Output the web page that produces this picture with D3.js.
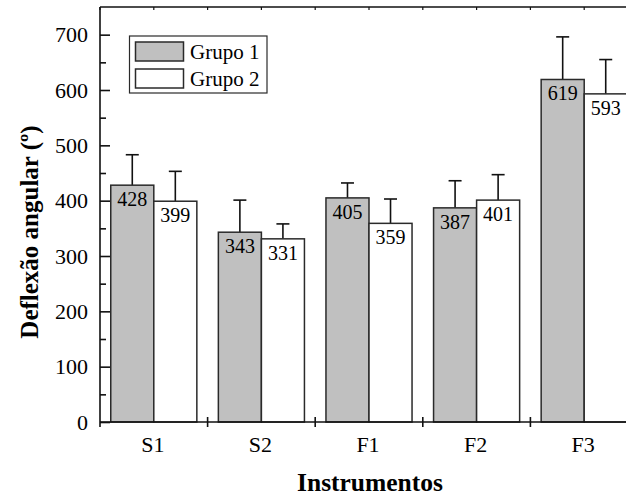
<!DOCTYPE html>
<html>
<head>
<meta charset="utf-8">
<script src="https://cdn.jsdelivr.net/npm/d3@7"></script>
<style>
  html, body { margin: 0; padding: 0; background: #fff; overflow: hidden; }
  svg text { font-family: "Liberation Serif", "DejaVu Serif", serif; fill: #000; }
</style>
</head>
<body>
<svg id="chart" width="626" height="498" font-family="Liberation Serif, serif"></svg>
<script>
// Instruments and angular deflection per group
const categories = ["S1", "S2", "F1", "F2", "F3"];
const groups = ["Grupo 1", "Grupo 2"];
const grupo1 = [428, 343, 405, 387, 619];
const grupo2 = [399, 331, 359, 401, 593];
const erro1 = [55, 58, 27, 49, 77];
const erro2 = [54, 27, 44, 46, 62];
const yTicks = [0, 100, 200, 300, 400, 500, 600, 700];
const groupColors = ["#c0c0c0", "#ffffff"];

const FONT = "'Liberation Serif', 'Times New Roman', serif";
const svg = d3.select("#chart");
const plotLeft = 100, plotRight = 638, plotTop = 7, plotBottom = 422;

const x = d3.scaleBand().domain(categories).range([plotLeft, plotRight]).paddingInner(0).paddingOuter(0);
const xSub = d3.scaleBand().domain(groups).range([0, x.bandwidth()]).paddingInner(0).paddingOuter(0.25);
const y = d3.scaleLinear().domain([0, 750]).range([plotBottom, plotTop]);

const series = [grupo1, grupo2];
const errors = [erro1, erro2];

// Error bars (upper half only), drawn under the bars
const g = svg.append("g");
groups.forEach((grp, gi) => {
  categories.forEach((c, ci) => {
    const v = series[gi][ci];
    const bx = x(c) + xSub(grp);
    const bw = xSub.bandwidth();
    const cx = bx + bw / 2;
    const yt = y(v + errors[gi][ci]);
    g.append("line")
      .attr("x1", cx).attr("x2", cx)
      .attr("y1", y(v)).attr("y2", yt)
      .attr("stroke", "#111").attr("stroke-width", 1.6);
    g.append("line")
      .attr("x1", cx - 6.5).attr("x2", cx + 6.5)
      .attr("y1", yt).attr("y2", yt)
      .attr("stroke", "#111").attr("stroke-width", 1.6);
  });
});

// Bars with their value labels
groups.forEach((grp, gi) => {
  categories.forEach((c, ci) => {
    const v = series[gi][ci];
    const bx = x(c) + xSub(grp);
    const bw = xSub.bandwidth();
    g.append("rect")
      .attr("x", bx).attr("y", y(v))
      .attr("width", bw).attr("height", y(0) - y(v))
      .attr("fill", groupColors[gi])
      .attr("stroke", "#2a2a2a").attr("stroke-width", 1.5);
    g.append("text")
      .attr("x", bx + bw / 2).attr("y", y(v) + 21)
      .attr("text-anchor", "middle")
      .attr("font-family", FONT)
      .attr("font-size", 20)
      .text(v);
  });
});

// Frame
const frame = svg.append("g").attr("stroke", "#111").attr("stroke-width", 1.6).attr("fill", "none");
frame.append("line").attr("x1", plotLeft).attr("x2", plotRight).attr("y1", plotTop).attr("y2", plotTop);
frame.append("line").attr("x1", plotLeft).attr("x2", plotRight).attr("y1", plotBottom).attr("y2", plotBottom);
frame.append("line").attr("x1", plotLeft).attr("x2", plotLeft).attr("y1", plotTop).attr("y2", plotBottom + 5);

// Y ticks: major inward, minor at half steps
const yA = svg.append("g").attr("transform", `translate(${plotLeft},0)`)
  .call(d3.axisRight(y).tickValues(yTicks).tickSize(10).tickFormat(""));
yA.select(".domain").remove();
yA.selectAll("line").attr("stroke", "#111").attr("stroke-width", 1.6);
const minor = d3.range(50, 750, 100);
const yMinor = svg.append("g").attr("transform", `translate(${plotLeft},0)`)
  .call(d3.axisRight(y).tickValues(minor).tickSize(6).tickFormat(""));
yMinor.select(".domain").remove();
yMinor.selectAll("line").attr("stroke", "#111").attr("stroke-width", 1.6);

// Y tick labels
svg.append("g").selectAll("text").data(yTicks).join("text")
  .attr("x", plotLeft - 12).attr("y", d => y(d))
  .attr("dy", "0.35em")
  .attr("text-anchor", "end")
  .attr("font-family", FONT)
  .attr("font-size", 22)
  .text(d => d);

// X ticks at category boundaries, crossing the axis
const bounds = categories.slice(1).map(c => x(c));
svg.append("g").selectAll("line").data(bounds).join("line")
  .attr("x1", d => d).attr("x2", d => d)
  .attr("y1", plotBottom - 5).attr("y2", plotBottom + 5)
  .attr("stroke", "#111").attr("stroke-width", 1.6);

// Small ticks on the top edge at every half band
const topTicks = d3.range(0, categories.length * 2 + 1).map(i => plotLeft + i * x.bandwidth() / 2);
svg.append("g").selectAll("line").data(topTicks).join("line")
  .attr("x1", d => d).attr("x2", d => d)
  .attr("y1", plotTop).attr("y2", plotTop + 3)
  .attr("stroke", "#111").attr("stroke-width", 1.2);

// X labels
svg.append("g").selectAll("text").data(categories).join("text")
  .attr("x", d => x(d) + x.bandwidth() / 2 - 1)
  .attr("y", plotBottom + 30)
  .attr("text-anchor", "middle")
  .attr("font-family", FONT)
  .attr("font-size", 22)
  .text(d => d);

// Axis titles
svg.append("text")
  .attr("x", 370).attr("y", 491)
  .attr("text-anchor", "middle")
  .attr("font-family", FONT)
  .attr("font-size", 25.5).attr("font-weight", "bold")
  .text("Instrumentos");
svg.append("text")
  .attr("transform", "translate(38,232) rotate(-90)")
  .attr("text-anchor", "middle")
  .attr("font-family", FONT)
  .attr("font-size", 25).attr("font-weight", "bold")
  .text("Deflexão angular (º)");

// Legend
const lg = svg.append("g");
lg.append("rect").attr("x", 129.5).attr("y", 36).attr("width", 137.5).attr("height", 57)
  .attr("fill", "#fff").attr("stroke", "#2a2a2a").attr("stroke-width", 1.2);
groups.forEach((grp, i) => {
  const yy = 42 + i * 27;
  lg.append("rect").attr("x", 135.5).attr("y", yy).attr("width", 48).attr("height", 19)
    .attr("fill", groupColors[i]).attr("stroke", "#2a2a2a").attr("stroke-width", 1.5);
  lg.append("text").attr("x", 190).attr("y", yy + 17)
    .attr("font-family", FONT)
    .attr("font-size", 21).text(grp);
});
</script>
</body>
</html>
